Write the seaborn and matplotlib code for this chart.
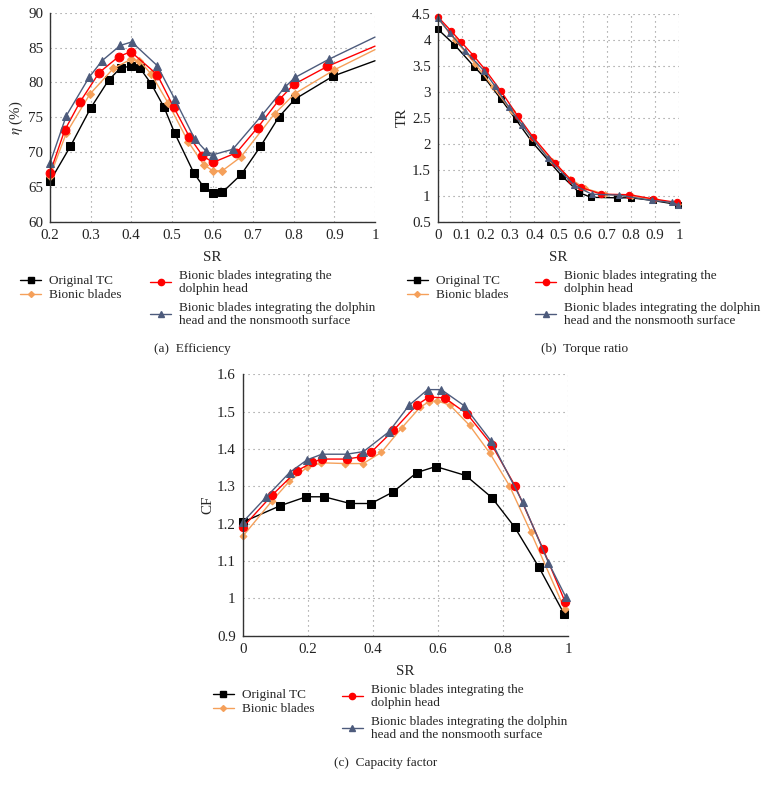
import numpy as np
import pandas as pd
import matplotlib
matplotlib.use("Agg")
import matplotlib.pyplot as plt
import seaborn as sns
from matplotlib.lines import Line2D

# ---------------- data ----------------
series_names = ["Original TC", "Bionic blades",
                "Bionic blades integrating the\ndolphin head",
                "Bionic blades integrating the dolphin\nhead and the nonsmooth surface"]

# (a) Efficiency
a_orig_sr = [0.2, 0.25, 0.3, 0.344, 0.374, 0.399, 0.422, 0.449, 0.481, 0.507, 0.554, 0.578, 0.601, 0.624, 0.671, 0.718, 0.763, 0.803, 0.897, 1.0]
a_orig_eta = [65.8, 70.8, 76.3, 80.3, 82.1, 82.3, 82.0, 79.8, 76.4, 72.7, 67.0, 65.0, 64.1, 64.2, 66.8, 70.8, 75.0, 77.6, 80.9, 83.1]
a_bion_sr = [0.2, 0.24, 0.298, 0.356, 0.399, 0.42, 0.449, 0.491, 0.54, 0.578, 0.601, 0.624, 0.67, 0.753, 0.803, 0.9, 1.0]
a_bion_eta = [66.5, 72.7, 78.3, 82.0, 83.3, 83.1, 81.2, 77.0, 71.5, 68.2, 67.3, 67.3, 69.3, 75.5, 78.4, 81.8, 84.7]
a_dolph_sr = [0.2, 0.236, 0.274, 0.321, 0.369, 0.399, 0.464, 0.504, 0.543, 0.575, 0.601, 0.659, 0.711, 0.764, 0.8, 0.883, 1.0]
a_dolph_eta = [67.0, 73.1, 77.2, 81.4, 83.7, 84.4, 81.1, 76.5, 72.2, 69.5, 68.5, 69.9, 73.5, 77.5, 79.7, 82.3, 85.2]
a_nons_sr = [0.2, 0.24, 0.296, 0.328, 0.373, 0.401, 0.464, 0.507, 0.556, 0.583, 0.601, 0.65, 0.722, 0.778, 0.803, 0.886, 1.0]
a_nons_eta = [68.4, 75.2, 80.7, 83.1, 85.3, 85.8, 82.4, 77.6, 71.9, 70.2, 69.6, 70.4, 75.3, 79.3, 80.7, 83.3, 86.5]

# (b) Torque ratio
b_orig_sr = [0.0, 0.069, 0.152, 0.193, 0.262, 0.323, 0.39, 0.463, 0.514, 0.586, 0.634, 0.741, 0.8, 0.89, 0.993]
b_orig_tr = [4.21, 3.91, 3.48, 3.28, 2.86, 2.47, 2.04, 1.65, 1.38, 1.06, 0.97, 0.96, 0.96, 0.91, 0.83]
b_bion_sr = [0.0, 0.072, 0.155, 0.23, 0.306, 0.389, 0.472, 0.548, 0.61, 0.692, 0.803, 0.9, 0.996]
b_bion_tr = [4.42, 4.0, 3.54, 3.09, 2.63, 2.12, 1.67, 1.33, 1.14, 1.03, 0.99, 0.93, 0.84]
b_dolph_sr = [0.0, 0.054, 0.097, 0.148, 0.196, 0.261, 0.332, 0.393, 0.486, 0.552, 0.593, 0.677, 0.793, 0.89, 0.99]
b_dolph_tr = [4.45, 4.18, 3.96, 3.70, 3.43, 3.02, 2.53, 2.14, 1.63, 1.30, 1.16, 1.03, 1.02, 0.94, 0.87]
b_nons_sr = [0.0, 0.051, 0.114, 0.193, 0.237, 0.294, 0.348, 0.457, 0.563, 0.637, 0.752, 0.885, 0.971, 0.996]
b_nons_tr = [4.43, 4.13, 3.79, 3.40, 3.11, 2.71, 2.37, 1.72, 1.21, 1.03, 1.01, 0.91, 0.87, 0.82]

# (c) Capacity factor
c_orig_sr = [0.0, 0.115, 0.195, 0.25, 0.33, 0.394, 0.462, 0.535, 0.593, 0.685, 0.765, 0.835, 0.91, 0.988]
c_orig_cf = [1.204, 1.248, 1.272, 1.272, 1.254, 1.254, 1.285, 1.337, 1.353, 1.329, 1.270, 1.191, 1.083, 0.957]
c_bion_sr = [0.0, 0.091, 0.143, 0.198, 0.242, 0.315, 0.37, 0.426, 0.488, 0.545, 0.573, 0.598, 0.637, 0.697, 0.758, 0.819, 0.885, 0.989]
c_bion_cf = [1.166, 1.262, 1.313, 1.351, 1.363, 1.361, 1.361, 1.391, 1.456, 1.512, 1.527, 1.529, 1.517, 1.463, 1.390, 1.302, 1.177, 0.971]
c_dolph_sr = [0.0, 0.091, 0.166, 0.213, 0.244, 0.319, 0.363, 0.394, 0.463, 0.535, 0.572, 0.62, 0.689, 0.765, 0.836, 0.923, 0.99]
c_dolph_cf = [1.19, 1.277, 1.341, 1.364, 1.373, 1.373, 1.379, 1.391, 1.45, 1.518, 1.539, 1.537, 1.494, 1.411, 1.302, 1.131, 0.991]
c_nons_sr = [0.0, 0.072, 0.144, 0.198, 0.243, 0.319, 0.371, 0.449, 0.511, 0.568, 0.61, 0.68, 0.763, 0.86, 0.939, 0.992]
c_nons_cf = [1.204, 1.271, 1.337, 1.371, 1.386, 1.386, 1.393, 1.446, 1.517, 1.559, 1.559, 1.516, 1.421, 1.257, 1.096, 1.004]

a_xticks = [0.2, 0.3, 0.4, 0.5, 0.6, 0.7, 0.8, 0.9, 1.0]
a_xlabels = ["0.2", "0.3", "0.4", "0.5", "0.6", "0.7", "0.8", "0.9", "1"]
a_yticks = [60, 65, 70, 75, 80, 85, 90]
b_xticks = [0, 0.1, 0.2, 0.3, 0.4, 0.5, 0.6, 0.7, 0.8, 0.9, 1.0]
b_xlabels = ["0", "0.1", "0.2", "0.3", "0.4", "0.5", "0.6", "0.7", "0.8", "0.9", "1"]
b_yticks = [0.5, 1, 1.5, 2, 2.5, 3, 3.5, 4, 4.5]
b_ylabels = ["0.5", "1", "1.5", "2", "2.5", "3", "3.5", "4", "4.5"]
c_xticks = [0, 0.2, 0.4, 0.6, 0.8, 1.0]
c_xlabels = ["0", "0.2", "0.4", "0.6", "0.8", "1"]
c_yticks = [0.9, 1.0, 1.1, 1.2, 1.3, 1.4, 1.5, 1.6]
c_ylabels = ["0.9", "1", "1.1", "1.2", "1.3", "1.4", "1.5", "1.6"]

# ---------------- style ----------------
sns.set_style("white")
plt.rcParams['font.family'] = ['Liberation Serif', 'DejaVu Serif']
plt.rcParams['mathtext.fontset'] = 'stix'

colors = ["#000000", "#F5A05A", "#FF0000", "#4D5B7C"]
markers = ["s", "D", "o", "^"]
W, H = 770, 790
TICK_FS = 10.8
LEG_FS = 9.5

fig = plt.figure(figsize=(W / 100, H / 100), dpi=100)


def px_axes(l, t, r, b):
    return fig.add_axes([l / W, 1 - b / H, (r - l) / W, (b - t) / H])


def style_axes(ax, xlim, ylim, xt, xl, yt, yl, ylabel):
    ax.set_xlim(*xlim)
    ax.set_ylim(*ylim)
    ax.set_xticks(xt)
    ax.set_xticklabels(xl)
    ax.set_yticks(yt)
    ax.set_yticklabels(yl)
    ax.tick_params(length=0, labelsize=TICK_FS, pad=5, colors="#222222")
    ax.grid(True, color="#8c8c8c", linestyle=(0, (1, 3.5)), linewidth=0.8)
    ax.set_axisbelow(True)
    for s in ["top", "right"]:
        ax.spines[s].set_visible(False)
    for s in ["left", "bottom"]:
        ax.spines[s].set_color("#333333")
        ax.spines[s].set_linewidth(1.0)
    ax.set_xlabel("SR", fontsize=TICK_FS, labelpad=7)
    ax.set_ylabel(ylabel, fontsize=TICK_FS, labelpad=2)


def draw(ax, xs, ys, sizes, skip_last=False):
    for i in range(4):
        n = len(xs[i])
        kw = {}
        if skip_last:
            kw["markevery"] = list(range(n - 1))
        sns.lineplot(x=xs[i], y=ys[i], ax=ax, color=colors[i], marker=markers[i],
                     markersize=sizes[i], markeredgecolor=colors[i], linewidth=1.0,
                     estimator=None, sort=False, legend=False, clip_on=False, **kw)


def add_legends(x_left, y_left, x_right, y_right):
    handles = [Line2D([], [], color=colors[i], marker=markers[i], markersize=[4, 3, 4.5, 4.5][i],
                      markeredgecolor=colors[i], linewidth=1.0) for i in range(4)]
    common = dict(frameon=False, fontsize=LEG_FS, handlelength=1.6, handletextpad=0.6,
                  borderpad=0, borderaxespad=0, loc="upper left",
                  bbox_transform=fig.transFigure)
    l1 = fig.legend(handles[:2], series_names[:2], bbox_to_anchor=(x_left / W, 1 - y_left / H),
                    labelspacing=0.15, **common)
    l2 = fig.legend(handles[2:], series_names[2:], bbox_to_anchor=(x_right / W, 1 - y_right / H),
                    labelspacing=0.5, **common)
    for t in l2.get_texts():
        t.set_linespacing(1.12)


# (a)
axa = px_axes(50, 12.7, 375, 221.7)
draw(axa, [a_orig_sr, a_bion_sr, a_dolph_sr, a_nons_sr],
     [a_orig_eta, a_bion_eta, a_dolph_eta, a_nons_eta], [6, 4, 6.3, 6.3], skip_last=True)
style_axes(axa, (0.2, 1.0), (60, 90), a_xticks, a_xlabels, a_yticks,
           [str(v) for v in a_yticks], r"$\eta$ (%)")

# (b)
axb = px_axes(437.7, 14, 679.3, 221.7)
draw(axb, [b_orig_sr, b_bion_sr, b_dolph_sr, b_nons_sr],
     [b_orig_tr, b_bion_tr, b_dolph_tr, b_nons_tr], [4.2, 3, 4.6, 4.6])
style_axes(axb, (0, 1.0), (0.5, 4.5), b_xticks, b_xlabels, b_yticks, b_ylabels, "TR")

# (c)
axc = px_axes(242.7, 374.3, 568.3, 635.7)
draw(axc, [c_orig_sr, c_bion_sr, c_dolph_sr, c_nons_sr],
     [c_orig_cf, c_bion_cf, c_dolph_cf, c_nons_cf], [5.8, 3.5, 6, 5.6])
style_axes(axc, (0, 1.0), (0.9, 1.6), c_xticks, c_xlabels, c_yticks, c_ylabels, "CF")

add_legends(20, 275, 150, 270)
add_legends(406.7, 275, 535, 270)
add_legends(212.7, 689, 341.7, 684)

fig.text(192 / W, 1 - 349 / H, "(a)  Efficiency", ha="center", va="center", fontsize=LEG_FS)
fig.text(585 / W, 1 - 349 / H, "(b)  Torque ratio", ha="center", va="center", fontsize=LEG_FS)
fig.text(386 / W, 1 - 762.7 / H, "(c)  Capacity factor", ha="center", va="center", fontsize=LEG_FS)

fig.savefig("out.png", dpi=100)
